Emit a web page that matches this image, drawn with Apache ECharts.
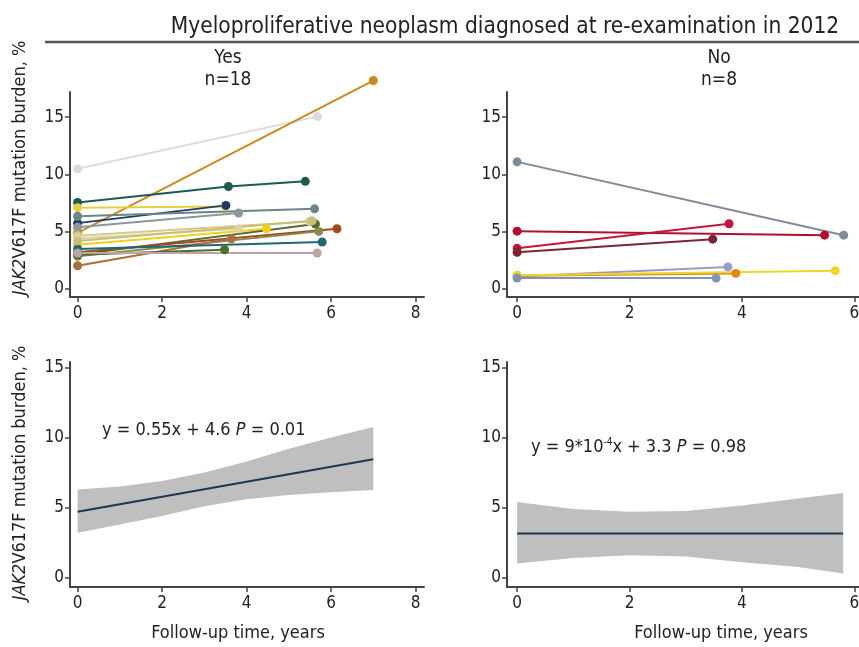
<!DOCTYPE html>
<html>
<head>
<meta charset="utf-8">
<title>JAK2V617F mutation burden over follow-up</title>
<script src="https://cdn.jsdelivr.net/npm/echarts@6/dist/echarts.min.js"></script>
<style>
  html, body { margin: 0; padding: 0; background: #fff; }
  #chart { width: 859px; height: 647px; }
</style>
</head>
<body>
<div id="chart"></div>
<script>
// follow-up time (years) and mutation burden (%) per patient, MPN = yes
const yesTimes = [
  [0, 5.68], [0, 7.0], [0, 3.57, 5.39], [0, 3.5], [0, 3.51], [0, 5.61], [0, 3.81],
  [0, 5.49], [0, 3.81], [0, 4.47], [0, 5.63], [0, 6.14], [0, 5.71], [0, 3.64],
  [0, 5.79], [0, 3.48], [0, 5.67], [0, 5.55]
];
const yesBurden = [
  [10.5, 15.05], [4.9, 18.2], [7.55, 8.95, 9.4], [7.1, 7.2], [5.75, 7.3], [6.35, 7.0], [5.4, 6.63],
  [4.65, 5.9], [4.4, 5.26], [3.87, 5.26], [3.0, 5.67], [3.2, 5.26], [2.85, 5.03], [2.03, 4.39],
  [3.49, 4.1], [2.99, 3.43], [3.14, 3.14], [4.2, 5.95]
];
const yesColors = ['#dcdcdc', '#c98a1e', '#1d5b52', '#e6d040', '#1c3e63', '#6f8487', '#8c9898',
  '#d4ca8c', '#dcd4a4', '#f0d01a', '#566b2e', '#a4481f', '#8c8a4c', '#a9713e',
  '#1f6676', '#4c6e2e', '#bba4a4', '#c8c07a'];

// MPN = no
const noTimes = [[0, 5.81], [0, 5.47], [0, 3.77], [0, 3.48], [0, 3.75], [0, 3.89], [0, 5.66], [0, 3.54]];
const noBurden = [[11.1, 4.7], [5.05, 4.7], [3.55, 5.7], [3.2, 4.35], [1.1, 1.93], [1.15, 1.36], [1.2, 1.6], [0.95, 0.95]];
const noColors = ['#7f8b9a', '#b0102e', '#c0183a', '#7a2636', '#9c9acb', '#e08a12', '#ecd62a', '#8094b4'];

// regression lines and confidence bands
const fitYesX = [0, 7];
const fitYesY = [4.7, 8.45];
const bandYesX = [0, 1, 2, 3, 4, 5, 6, 7];
const bandYesLow = [3.2, 3.8, 4.4, 5.1, 5.6, 5.9, 6.1, 6.25];
const bandYesHigh = [6.3, 6.5, 6.9, 7.5, 8.3, 9.2, 10.0, 10.75];

const fitNoX = [0, 5.8];
const fitNoY = [3.15, 3.15];
const bandNoX = [0, 1, 2, 3, 4, 5, 5.8];
const bandNoLow = [1.0, 1.4, 1.6, 1.5, 1.1, 0.75, 0.3];
const bandNoHigh = [5.4, 4.9, 4.7, 4.75, 5.15, 5.65, 6.05];

const xTicksYes = [0, 2, 4, 6, 8];
const xTicksNo = [0, 2, 4, 6];
const yTicks = [0, 5, 10, 15];

const FONT = '"Liberation Sans Narrow", "DejaVu Sans Condensed", "Liberation Sans", sans-serif';
const AXIS = '#444';

const chart = echarts.init(document.getElementById('chart'));

function xAxis(grid, max, ticks) {
  return {
    type: 'value', gridIndex: grid, min: -0.18, max: max,
    axisLine: { show: true, onZero: false, lineStyle: { color: AXIS, width: 2 } },
    axisTick: { show: true, customValues: ticks, length: 5, lineStyle: { color: AXIS, width: 1.5 } },
    axisLabel: { customValues: ticks, fontSize: 17, color: '#222', fontFamily: FONT, margin: 8 },
    splitLine: { show: false }
  };
}

function yAxis(grid, min, max) {
  return {
    type: 'value', gridIndex: grid, min: min, max: max,
    axisLine: { show: true, onZero: false, lineStyle: { color: AXIS, width: 2 } },
    axisTick: { show: true, customValues: yTicks, length: 5, lineStyle: { color: AXIS, width: 1.5 } },
    axisLabel: { customValues: yTicks, fontSize: 17, color: '#222', fontFamily: FONT, margin: 6 },
    splitLine: { show: false }
  };
}

function patientSeries(times, burden, colors, axis) {
  return times.map((t, i) => ({
    type: 'line',
    xAxisIndex: axis, yAxisIndex: axis,
    data: t.map((x, j) => [x, burden[i][j]]),
    symbol: 'circle', symbolSize: 9,
    clip: false,
    lineStyle: { color: colors[i], width: 2 },
    itemStyle: { color: colors[i] },
    z: 3
  }));
}

function bandSeries(xs, low, high, fitX, fitY, axis) {
  return [
    {
      // confidence ribbon: one polygon through the upper edge then back along the lower edge
      type: 'custom', xAxisIndex: axis, yAxisIndex: axis,
      data: xs.map((x, i) => [x, low[i], high[i]]),
      encode: { x: 0, y: [1, 2] },
      renderItem: (params, api) => {
        if (params.dataIndex !== 0) return;
        const upper = xs.map((x, i) => api.coord([x, high[i]]));
        const lower = xs.map((x, i) => api.coord([x, low[i]])).reverse();
        return {
          type: 'polygon',
          shape: { points: upper.concat(lower) },
          style: { fill: '#bfbfbf' }
        };
      },
      z: 1
    },
    {
      type: 'line', xAxisIndex: axis, yAxisIndex: axis,
      data: fitX.map((x, i) => [x, fitY[i]]),
      symbol: 'none', lineStyle: { color: '#1f3556', width: 2 }, z: 2
    }
  ];
}

function yTitle(y) {
  return {
    type: 'text', x: 20, y: y, rotation: Math.PI / 2,
    style: {
      text: '{i|JAK2}{n|V617F mutation burden, %}',
      align: 'center', verticalAlign: 'middle',
      rich: {
        i: { fontSize: 18, fontStyle: 'italic', fontFamily: FONT, fill: '#222' },
        n: { fontSize: 18, fontFamily: FONT, fill: '#222' }
      }
    }
  };
}

function plainText(x, y, text, size) {
  return {
    type: 'text', x: x, y: y,
    style: { text: text, fontSize: size, fontFamily: FONT, fill: '#222', align: 'center', verticalAlign: 'middle' }
  };
}

chart.setOption({
  animation: false,
  grid: [
    { left: 70, top: 92, width: 354, height: 205, outerBoundsMode: 'none' },
    { left: 507, top: 92, width: 353, height: 205, outerBoundsMode: 'none' },
    { left: 70, top: 362, width: 354, height: 225, outerBoundsMode: 'none' },
    { left: 507, top: 362, width: 353, height: 225, outerBoundsMode: 'none' }
  ],
  xAxis: [
    xAxis(0, 8.2, xTicksYes),
    xAxis(1, 6.1, xTicksNo),
    xAxis(2, 8.2, xTicksYes),
    xAxis(3, 6.1, xTicksNo)
  ],
  yAxis: [
    yAxis(0, -0.7, 17.2),
    yAxis(1, -0.7, 17.2),
    yAxis(2, -0.67, 15.4),
    yAxis(3, -0.67, 15.4)
  ],
  series: [
    ...patientSeries(yesTimes, yesBurden, yesColors, 0),
    ...patientSeries(noTimes, noBurden, noColors, 1),
    ...bandSeries(bandYesX, bandYesLow, bandYesHigh, fitYesX, fitYesY, 2),
    ...bandSeries(bandNoX, bandNoLow, bandNoHigh, fitNoX, fitNoY, 3)
  ],
  graphic: [
    plainText(505, 27, 'Myeloproliferative neoplasm diagnosed at re-examination in 2012', 22.5),
    {
      type: 'line', shape: { x1: 45, y1: 42, x2: 859, y2: 42 },
      style: { stroke: '#555', lineWidth: 2.5 }
    },
    plainText(228, 58, 'Yes', 19),
    plainText(228, 80, 'n=18', 19),
    plainText(719, 58, 'No', 19),
    plainText(719, 80, 'n=8', 19),
    yTitle(168),
    yTitle(473),
    plainText(238, 633, 'Follow-up time, years', 18),
    plainText(721, 633, 'Follow-up time, years', 18),
    {
      type: 'text', x: 102, y: 430,
      style: {
        text: '{n|y = 0.55x + 4.6 }{i|P}{n| = 0.01}',
        verticalAlign: 'middle',
        rich: {
          n: { fontSize: 18, fontFamily: FONT, fill: '#222' },
          i: { fontSize: 18, fontFamily: FONT, fontStyle: 'italic', fill: '#222' }
        }
      }
    },
    {
      type: 'text', x: 531, y: 447,
      style: {
        text: '{n|y = 9*10}{s|-4}{n|x + 3.3 }{i|P}{n| = 0.98}',
        verticalAlign: 'middle',
        rich: {
          n: { fontSize: 18, fontFamily: FONT, fill: '#222' },
          s: { fontSize: 10, fontFamily: FONT, fill: '#222', verticalAlign: 'top', padding: [0, 0, 10, 0] },
          i: { fontSize: 18, fontFamily: FONT, fontStyle: 'italic', fill: '#222' }
        }
      }
    }
  ]
});
</script>
</body>
</html>
